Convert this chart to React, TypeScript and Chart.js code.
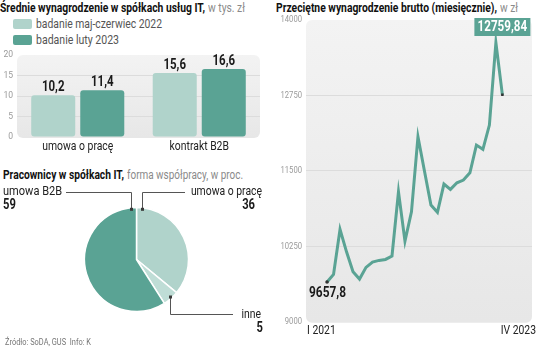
import React, { useEffect, useRef } from "react";
import { Chart, registerables } from "chart.js";
Chart.register(...registerables);

const FONT = "Roboto, 'Noto Sans', sans-serif";
const LIGHT = "#b0d3cb";
const DARK = "#5aa394";
const INNE = "#bfddd6";

// --- bar chart data ---
const barCategories = ["umowa o pracę", "kontrakt B2B"];
const barSeriesNames = ["badanie maj-czerwiec 2022", "badanie luty 2023"];
const survey2022 = [10.2, 15.6];
const survey2023 = [11.4, 16.6];
const barTicks = [0, 5, 10, 15, 20];

// --- pie data ---
const pieLabels = ["umowa o pracę", "inne", "umowa B2B"];
const pieValues = [36, 5, 59];

// --- line data ---
const monthLabels = [
  "I 2021", "II 2021", "III 2021", "IV 2021", "V 2021", "VI 2021", "VII 2021", "VIII 2021", "IX 2021", "X 2021", "XI 2021", "XII 2021",
  "I 2022", "II 2022", "III 2022", "IV 2022", "V 2022", "VI 2022", "VII 2022", "VIII 2022", "IX 2022", "X 2022", "XI 2022", "XII 2022",
  "I 2023", "II 2023", "III 2023", "IV 2023",
];
const salaries = [
  9657.8, 9783, 10529, 10158, 9827, 9706, 9900, 9988, 10016, 10032, 10087, 11153,
  10336, 10822, 12065, 11496, 10933, 10812, 11281, 11193, 11302, 11347, 11468, 11927,
  11856, 12259, 13624, 12759.84,
];
const lineXTicks = ["I 2021", "IV 2023"];
const lineYTicks = [9000, 10250, 11500, 12750, 14000];

const fmt = (v: number) => String(v).replace(".", ",");

let mctx: CanvasRenderingContext2D | null = null;
function textW(text: string, font: string) {
  if (!mctx) mctx = document.createElement("canvas").getContext("2d");
  mctx!.font = font;
  return mctx!.measureText(text).width;
}

function drawText(ctx: any, text: string, x: number, y: number, font: string, color: string, align: string, sx: number) {
  ctx.save();
  ctx.font = font;
  ctx.fillStyle = color;
  ctx.textAlign = align;
  ctx.textBaseline = "middle";
  ctx.translate(x, y);
  ctx.scale(sx, 1);
  ctx.fillText(text, 0, 0);
  ctx.restore();
}

function Fit(props: { text: string; x: number; cy: number; width: number; size: number; weight?: number; color: string }) {
  const { text, x, cy, width, size, weight = 400, color } = props;
  const font = `${weight} ${size}px ${FONT}`;
  const w = textW(text, font) || width;
  const s = width / w;
  return (
    <div
      style={{
        position: "absolute",
        left: x,
        top: cy - 8,
        height: 16,
        lineHeight: "16px",
        fontFamily: FONT,
        fontSize: size,
        fontWeight: weight,
        color,
        whiteSpace: "pre",
        transform: `scaleX(${s})`,
        transformOrigin: "0 0",
      }}
    >
      {text}
    </div>
  );
}

function bgPlugin(radius: number) {
  return {
    id: "bgRect",
    beforeDraw(chart: any) {
      const { ctx, chartArea: a } = chart;
      ctx.save();
      const g = ctx.createLinearGradient(0, a.top, 0, a.bottom);
      g.addColorStop(0, "#f3f3f3");
      g.addColorStop(1, "#e7e7e7");
      ctx.fillStyle = g;
      ctx.beginPath();
      ctx.roundRect(a.left, a.top, a.right - a.left, a.bottom - a.top + 1, radius);
      ctx.fill();
      ctx.restore();
    },
  };
}

function yLabelPlugin(ticks: number[], size: number, sx: number) {
  return {
    id: "yLabels",
    afterDraw(chart: any) {
      const ys = chart.scales.y;
      const x = chart.chartArea.left - 4;
      ticks.forEach((v) => drawText(chart.ctx, String(v), x, ys.getPixelForValue(v), `${size}px ${FONT}`, "#9a9a9a", "right", sx));
    },
  };
}

function BarPanel() {
  const ref = useRef<HTMLCanvasElement>(null);
  useEffect(() => {
    const labelPlugin = {
      id: "barLabels",
      afterDatasetsDraw(chart: any) {
        const { ctx } = chart;
        chart.data.datasets.forEach((ds: any, di: number) => {
          chart.getDatasetMeta(di).data.forEach((el: any, i: number) => {
            drawText(ctx, fmt(ds.data[i]), el.x, el.y - 7.5, `bold 14px ${FONT}`, "#1a1a1a", "center", 0.82);
          });
        });
        const xs = chart.scales.x;
        barCategories.forEach((c, i) =>
          drawText(ctx, c, xs.getPixelForValue(i), chart.chartArea.bottom + 9.5, `13px ${FONT}`, "#222", "center", 0.8)
        );
      },
    };
    const chart = new Chart(ref.current!, {
      type: "bar",
      data: {
        labels: barCategories,
        datasets: [
          { label: barSeriesNames[0], data: survey2022, backgroundColor: LIGHT, borderRadius: 3, borderSkipped: false },
          { label: barSeriesNames[1], data: survey2023, backgroundColor: DARK, borderRadius: 3, borderSkipped: false },
        ],
      },
      options: {
        animation: false,
        responsive: false,
        layout: { padding: { top: 10, right: 5, bottom: 23, left: 0 } },
        plugins: { legend: { display: false }, tooltip: { enabled: false } },
        datasets: { bar: { categoryPercentage: 0.807, barPercentage: 0.898 } },
        scales: {
          x: { display: false },
          y: {
            min: barTicks[0],
            max: barTicks[barTicks.length - 1],
            afterBuildTicks: (s: any) => { s.ticks = barTicks.map((v) => ({ value: v })); },
            ticks: { display: false },
            grid: {
              drawTicks: false,
              color: (c: any) => (c.tick && c.tick.value > barTicks[0] && c.tick.value < barTicks[barTicks.length - 1] ? "#dcdcdc" : "rgba(0,0,0,0)"),
            },
            border: { display: false },
            afterFit: (s: any) => { s.width = 17; },
          },
        },
      },
      plugins: [bgPlugin(6), labelPlugin, yLabelPlugin(barTicks, 9, 0.95)],
    } as any);
    return () => chart.destroy();
  }, []);
  return <canvas ref={ref} width={265} height={115} style={{ position: "absolute", left: 0, top: 45 }} />;
}

function PiePanel() {
  const ref = useRef<HTMLCanvasElement>(null);
  useEffect(() => {
    const leaderPlugin = {
      id: "leaders",
      afterDatasetsDraw(chart: any) {
        const { ctx } = chart;
        const arcs = chart.getDatasetMeta(0).data;
        const pt = (el: any, ang: number, rr: number) => [el.x + rr * Math.cos(ang), el.y + rr * Math.sin(ang)];
        const d = 0.11;
        const a0 = arcs[0], a1 = arcs[1], a2 = arcs[2];
        const m0 = pt(a0, a0.startAngle + d, a0.outerRadius - 1.5);
        const m2 = pt(a2, a2.endAngle - d, a2.outerRadius - 1.5);
        const m1 = pt(a1, (a1.startAngle + a1.endAngle) / 2, a1.outerRadius - 2);
        const topY = 9;
        ctx.save();
        ctx.strokeStyle = "#555";
        ctx.lineWidth = 1;
        ctx.beginPath();
        ctx.moveTo(Math.round(m2[0]) + 0.5, m2[1]);
        ctx.lineTo(Math.round(m2[0]) + 0.5, topY + 0.5);
        ctx.lineTo(66, topY + 0.5);
        ctx.moveTo(Math.round(m0[0]) + 0.5, m0[1]);
        ctx.lineTo(Math.round(m0[0]) + 0.5, topY + 0.5);
        ctx.lineTo(185, topY + 0.5);
        const botY = 131.5;
        ctx.moveTo(Math.round(m1[0]) + 0.5, m1[1]);
        ctx.lineTo(Math.round(m1[0]) + 0.5, botY);
        ctx.lineTo(233, botY);
        ctx.stroke();
        ctx.fillStyle = "#3a3a3a";
        [m0, m1, m2].forEach((m) => ctx.fillRect(Math.round(m[0]) - 1, m[1] - 1.5, 3, 3));
        ctx.restore();
        const reg = `13px ${FONT}`;
        const bold = `bold 14px ${FONT}`;
        drawText(ctx, pieLabels[2], 3, topY, reg, "#222", "left", 0.85);
        drawText(ctx, pieLabels[0], 262, topY, reg, "#222", "right", 0.8);
        drawText(ctx, pieLabels[1], 261, 132, reg, "#222", "right", 0.8);
        drawText(ctx, String(pieValues[2]), 3, 22, bold, "#1a1a1a", "left", 0.8);
        drawText(ctx, String(pieValues[0]), 255, 22, bold, "#1a1a1a", "right", 0.8);
        drawText(ctx, String(pieValues[1]), 263, 145, bold, "#1a1a1a", "right", 0.8);
      },
    };
    const chart = new Chart(ref.current!, {
      type: "pie",
      data: {
        labels: pieLabels,
        datasets: [{ data: pieValues, backgroundColor: [LIGHT, INNE, DARK], borderColor: "#fff", borderWidth: 1.5 }],
      },
      options: {
        animation: false,
        responsive: false,
        layout: { padding: { left: 83.75, right: 80.75, top: 23.75, bottom: 22.75 } },
        plugins: { legend: { display: false }, tooltip: { enabled: false } },
      },
      plugins: [leaderPlugin],
    } as any);
    return () => chart.destroy();
  }, []);
  return <canvas ref={ref} width={270} height={152} style={{ position: "absolute", left: 0, top: 183 }} />;
}

function LinePanel() {
  const ref = useRef<HTMLCanvasElement>(null);
  useEffect(() => {
    const annot = {
      id: "annot",
      afterDatasetsDraw(chart: any) {
        const { ctx, chartArea: a } = chart;
        const pts = chart.getDatasetMeta(0).data;
        const first = pts[0];
        const last = pts[pts.length - 1];
        drawText(ctx, fmt(salaries[0]), first.x - 18, first.y + 11, `bold 14px ${FONT}`, "#1a1a1a", "left", 0.85);
        const w = 56;
        const h = 18;
        ctx.save();
        ctx.fillStyle = DARK;
        ctx.fillRect(last.x - w / 2, a.top - 2, w, h);
        ctx.restore();
        drawText(ctx, fmt(salaries[salaries.length - 1]), last.x, a.top - 2 + h / 2 + 0.5, `bold 14px ${FONT}`, "#fff", "center", 0.83);
        drawText(ctx, lineXTicks[0], a.left + 1, a.bottom + 9.5, `12.5px ${FONT}`, "#222", "left", 0.83);
        drawText(ctx, lineXTicks[1], chart.width, a.bottom + 9.5, `12.5px ${FONT}`, "#222", "right", 0.83);
      },
    };
    const n = salaries.length;
    const chart = new Chart(ref.current!, {
      type: "line",
      data: {
        labels: monthLabels,
        datasets: [
          {
            data: salaries.map((v, i) => ({ x: i, y: v })),
            borderColor: DARK,
            borderWidth: 3,
            tension: 0,
            pointRadius: salaries.map((_, i) => (i === 0 || i === n - 1 ? 1.8 : 0)),
            pointStyle: salaries.map((_, i) => (i === n - 1 ? "rect" : "circle")),
            pointBackgroundColor: "#333",
            pointBorderWidth: 0,
          },
        ],
      },
      options: {
        animation: false,
        responsive: false,
        layout: { padding: { top: 10, right: 1, bottom: 23.3, left: 0 } },
        plugins: { legend: { display: false }, tooltip: { enabled: false } },
        scales: {
          x: { type: "linear", display: false, min: -3.24, max: 31.56 },
          y: {
            min: lineYTicks[0],
            max: lineYTicks[lineYTicks.length - 1],
            afterBuildTicks: (s: any) => { s.ticks = lineYTicks.map((v) => ({ value: v })); },
            ticks: { display: false },
            grid: {
              drawTicks: false,
              color: (c: any) => (c.tick && c.tick.value > lineYTicks[0] && c.tick.value < lineYTicks[lineYTicks.length - 1] ? "#dcdcdc" : "rgba(0,0,0,0)"),
            },
            border: { display: false },
            afterFit: (s: any) => { s.width = 36; },
          },
        },
      },
      plugins: [bgPlugin(6), annot, yLabelPlugin(lineYTicks, 9, 0.85)],
    } as any);
    return () => chart.destroy();
  }, []);
  return <canvas ref={ref} width={266} height={335} style={{ position: "absolute", left: 270, top: 10 }} />;
}

export default function App() {
  return (
    <div style={{ position: "fixed", left: 0, top: 0, width: 536, height: 357, background: "#fff", overflow: "hidden" }}>
      <Fit text="Średnie wynagrodzenie w spółkach usług IT," x={0} cy={8} width={205} size={12.5} weight={700} color="#111" />
      <Fit text="w tys. zł" x={208} cy={8} width={37} size={12.5} color="#8a8a8a" />
      <div style={{ position: "absolute", left: 13, top: 19, width: 19, height: 10, background: LIGHT, borderRadius: 2 }} />
      <div style={{ position: "absolute", left: 13, top: 35, width: 19, height: 10, background: DARK, borderRadius: 2 }} />
      <Fit text={barSeriesNames[0]} x={36} cy={24} width={126} size={13} color="#555" />
      <Fit text={barSeriesNames[1]} x={36} cy={40} width={83} size={13} color="#555" />
      <BarPanel />
      <Fit text="Pracownicy w spółkach IT," x={3} cy={175} width={121} size={12.5} weight={700} color="#111" />
      <Fit text="forma współpracy, w proc." x={127} cy={175} width={116} size={12.5} color="#8a8a8a" />
      <PiePanel />
      <Fit text="Źródło: SoDA, GUS  Info: K" x={5} cy={342} width={86} size={9.5} color="#777" />
      <Fit text="Przeciętne wynagrodzenie brutto (miesięcznie)," x={276} cy={8} width={221} size={12.5} weight={700} color="#111" />
      <Fit text="w zł" x={500} cy={8} width={18} size={12.5} color="#8a8a8a" />
      <LinePanel />
    </div>
  );
}
